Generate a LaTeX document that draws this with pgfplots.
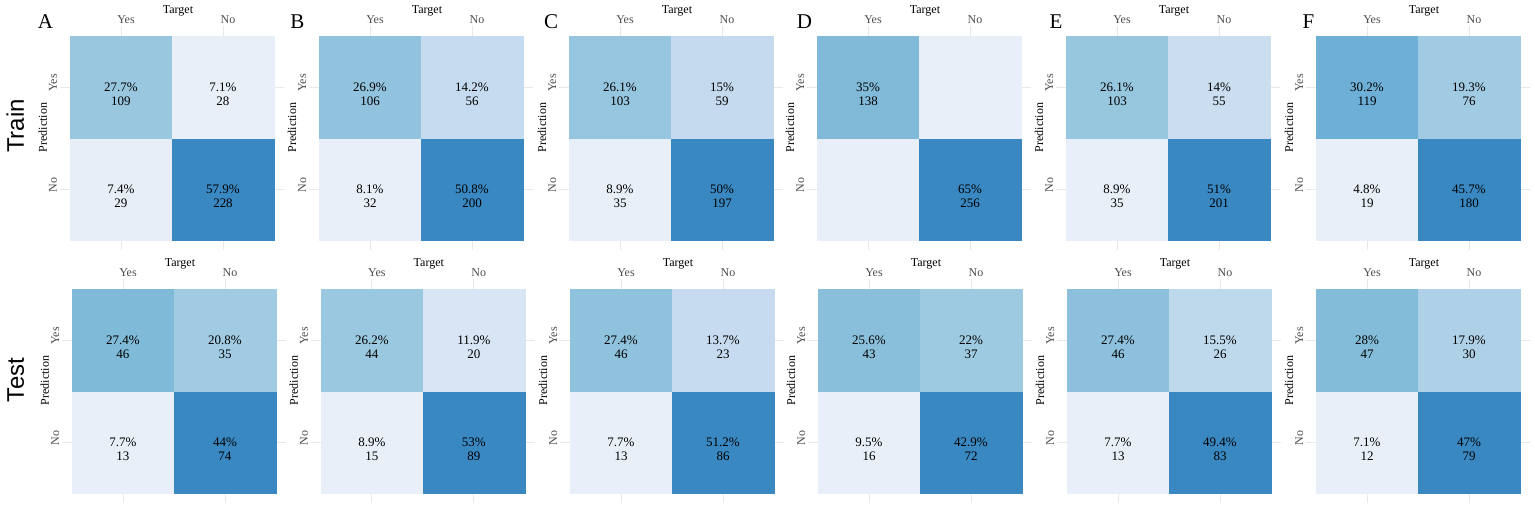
\documentclass[border=0pt]{standalone}
\usepackage{fontspec}
\setmainfont{Liberation Serif}
\newfontfamily\sansf{Liberation Sans}
\usepackage{pgfplots}
\pgfplotsset{compat=1.18}
\definecolor{tickgray}{RGB}{77,77,77}
\newcommand{\lblfont}{\fontsize{12}{14}\selectfont}
\newcommand{\cellfont}{\fontsize{13}{14.5}\selectfont}
\pgfplotsset{
  colormap={cmblue}{rgb255(0cm)=(232,239,248) rgb255(14cm)=(198,219,239)
    rgb255(36cm)=(160,203,226) rgb255(54cm)=(128,186,216)
    rgb255(62cm)=(109,175,214) rgb255(100cm)=(58,136,194)},
  cm/.style={
    anchor=south west, scale only axis, width=224.4pt, height=224.4pt,
    xmin=0.4, xmax=2.6, ymin=0.4, ymax=2.6,
    xtick={1,2}, ytick={1,2}, xticklabels={,,}, yticklabels={,,},
    major tick length=0pt, axis line style={draw=none},
    grid=major, major grid style={draw=black!9, line width=0.7pt},
    colormap name=cmblue, clip=false,
  },
  tiles/.style={matrix plot*, mesh/cols=2, mesh/rows=2, point meta=explicit},
  cmtext/.style={only marks, mark=none, nodes near coords,
    point meta=explicit symbolic,
    every node near coord/.append style={anchor=center, align=center,
      yshift=-7pt, font=\cellfont, text=black}},
}
% axis labels of one confusion matrix
\newcommand{\cmlabels}{%
  \node[anchor=base, font=\lblfont] at ([xshift=6pt, yshift=12.5pt]axis cs:1.5,2.6) {Target};
  \node[anchor=base, font=\lblfont, text=tickgray] at ([xshift=5pt, yshift=2.7pt]axis cs:1,2.6) {Yes};
  \node[anchor=base, font=\lblfont, text=tickgray] at ([xshift=5pt, yshift=2.7pt]axis cs:2,2.6) {No};
  \node[rotate=90, anchor=base, font=\lblfont, text=tickgray] at ([xshift=-2.8pt, yshift=4pt]axis cs:0.4,2) {Yes};
  \node[rotate=90, anchor=base, font=\lblfont, text=tickgray] at ([xshift=-2.8pt, yshift=4pt]axis cs:0.4,1) {No};
  \node[rotate=90, anchor=base, font=\lblfont] at ([xshift=-12.8pt, yshift=10.5pt]axis cs:0.4,1.5) {Prediction};
}
\begin{document}
\begin{tikzpicture}
\path[use as bounding box] (0,0) rectangle (1535pt,509pt);

% ---------------- Train ----------------
\begin{axis}[cm, at={(59.8pt,258.8pt)}, point meta min=7.1, point meta max=57.9]
\addplot[tiles] coordinates {(1,1)[7.4] (2,1)[57.9] (1,2)[27.7] (2,2)[7.1]};
\addplot[cmtext] coordinates {(1,1)[{7.4\%\\29}] (2,1)[{57.9\%\\228}] (1,2)[{27.7\%\\109}] (2,2)[{7.1\%\\28}]};
\cmlabels
\end{axis}

\begin{axis}[cm, at={(308.8pt,258.8pt)}, point meta min=8.1, point meta max=50.8]
\addplot[tiles] coordinates {(1,1)[8.1] (2,1)[50.8] (1,2)[26.9] (2,2)[14.2]};
\addplot[cmtext] coordinates {(1,1)[{8.1\%\\32}] (2,1)[{50.8\%\\200}] (1,2)[{26.9\%\\106}] (2,2)[{14.2\%\\56}]};
\cmlabels
\end{axis}

\begin{axis}[cm, at={(558.8pt,258.8pt)}, point meta min=8.9, point meta max=50]
\addplot[tiles] coordinates {(1,1)[8.9] (2,1)[50] (1,2)[26.1] (2,2)[15]};
\addplot[cmtext] coordinates {(1,1)[{8.9\%\\35}] (2,1)[{50\%\\197}] (1,2)[{26.1\%\\103}] (2,2)[{15\%\\59}]};
\cmlabels
\end{axis}

\begin{axis}[cm, at={(806.8pt,258.8pt)}, point meta min=0, point meta max=65]
\addplot[tiles] coordinates {(1,1)[0] (2,1)[65] (1,2)[35] (2,2)[0]};
\addplot[cmtext] coordinates {(2,1)[{65\%\\256}] (1,2)[{35\%\\138}]};
\cmlabels
\end{axis}

\begin{axis}[cm, at={(1055.8pt,258.8pt)}, point meta min=8.9, point meta max=51]
\addplot[tiles] coordinates {(1,1)[8.9] (2,1)[51] (1,2)[26.1] (2,2)[14]};
\addplot[cmtext] coordinates {(1,1)[{8.9\%\\35}] (2,1)[{51\%\\201}] (1,2)[{26.1\%\\103}] (2,2)[{14\%\\55}]};
\cmlabels
\end{axis}

\begin{axis}[cm, at={(1305.8pt,258.8pt)}, point meta min=4.8, point meta max=45.7]
\addplot[tiles] coordinates {(1,1)[4.8] (2,1)[45.7] (1,2)[30.2] (2,2)[19.3]};
\addplot[cmtext] coordinates {(1,1)[{4.8\%\\19}] (2,1)[{45.7\%\\180}] (1,2)[{30.2\%\\119}] (2,2)[{19.3\%\\76}]};
\cmlabels
\end{axis}

% ---------------- Test ----------------
\begin{axis}[cm, at={(61.8pt,5.8pt)}, point meta min=7.7, point meta max=44]
\addplot[tiles] coordinates {(1,1)[7.7] (2,1)[44] (1,2)[27.4] (2,2)[20.8]};
\addplot[cmtext] coordinates {(1,1)[{7.7\%\\13}] (2,1)[{44\%\\74}] (1,2)[{27.4\%\\46}] (2,2)[{20.8\%\\35}]};
\cmlabels
\end{axis}

\begin{axis}[cm, at={(310.6pt,5.8pt)}, point meta min=8.9, point meta max=53]
\addplot[tiles] coordinates {(1,1)[8.9] (2,1)[53] (1,2)[26.2] (2,2)[11.9]};
\addplot[cmtext] coordinates {(1,1)[{8.9\%\\15}] (2,1)[{53\%\\89}] (1,2)[{26.2\%\\44}] (2,2)[{11.9\%\\20}]};
\cmlabels
\end{axis}

\begin{axis}[cm, at={(559.8pt,5.8pt)}, point meta min=7.7, point meta max=51.2]
\addplot[tiles] coordinates {(1,1)[7.7] (2,1)[51.2] (1,2)[27.4] (2,2)[13.7]};
\addplot[cmtext] coordinates {(1,1)[{7.7\%\\13}] (2,1)[{51.2\%\\86}] (1,2)[{27.4\%\\46}] (2,2)[{13.7\%\\23}]};
\cmlabels
\end{axis}

\begin{axis}[cm, at={(807.8pt,5.8pt)}, point meta min=9.5, point meta max=42.9]
\addplot[tiles] coordinates {(1,1)[9.5] (2,1)[42.9] (1,2)[25.6] (2,2)[22]};
\addplot[cmtext] coordinates {(1,1)[{9.5\%\\16}] (2,1)[{42.9\%\\72}] (1,2)[{25.6\%\\43}] (2,2)[{22\%\\37}]};
\cmlabels
\end{axis}

\begin{axis}[cm, at={(1056.8pt,5.8pt)}, point meta min=7.7, point meta max=49.4]
\addplot[tiles] coordinates {(1,1)[7.7] (2,1)[49.4] (1,2)[27.4] (2,2)[15.5]};
\addplot[cmtext] coordinates {(1,1)[{7.7\%\\13}] (2,1)[{49.4\%\\83}] (1,2)[{27.4\%\\46}] (2,2)[{15.5\%\\26}]};
\cmlabels
\end{axis}

\begin{axis}[cm, at={(1305.8pt,5.8pt)}, point meta min=7.1, point meta max=47]
\addplot[tiles] coordinates {(1,1)[7.1] (2,1)[47] (1,2)[28] (2,2)[17.9]};
\addplot[cmtext] coordinates {(1,1)[{7.1\%\\12}] (2,1)[{47\%\\79}] (1,2)[{28\%\\47}] (2,2)[{17.9\%\\30}]};
\cmlabels
\end{axis}

% panel letters and row titles
\node[anchor=base, font=\fontsize{21}{24}\selectfont] at (45.5pt,480pt) {A};
\node[anchor=base, font=\fontsize{21}{24}\selectfont] at (297.5pt,480pt) {B};
\node[anchor=base, font=\fontsize{21}{24}\selectfont] at (551pt,480pt) {C};
\node[anchor=base, font=\fontsize{21}{24}\selectfont] at (804.5pt,480pt) {D};
\node[anchor=base, font=\fontsize{21}{24}\selectfont] at (1056pt,480pt) {E};
\node[anchor=base, font=\fontsize{21}{24}\selectfont] at (1308.5pt,480pt) {F};
\node[rotate=90, anchor=base, font=\sansf\fontsize{24}{28}\selectfont] at (24pt,383pt) {Train};
\node[rotate=90, anchor=base, font=\sansf\fontsize{24}{28}\selectfont] at (24pt,129pt) {Test};
\end{tikzpicture}
\end{document}
